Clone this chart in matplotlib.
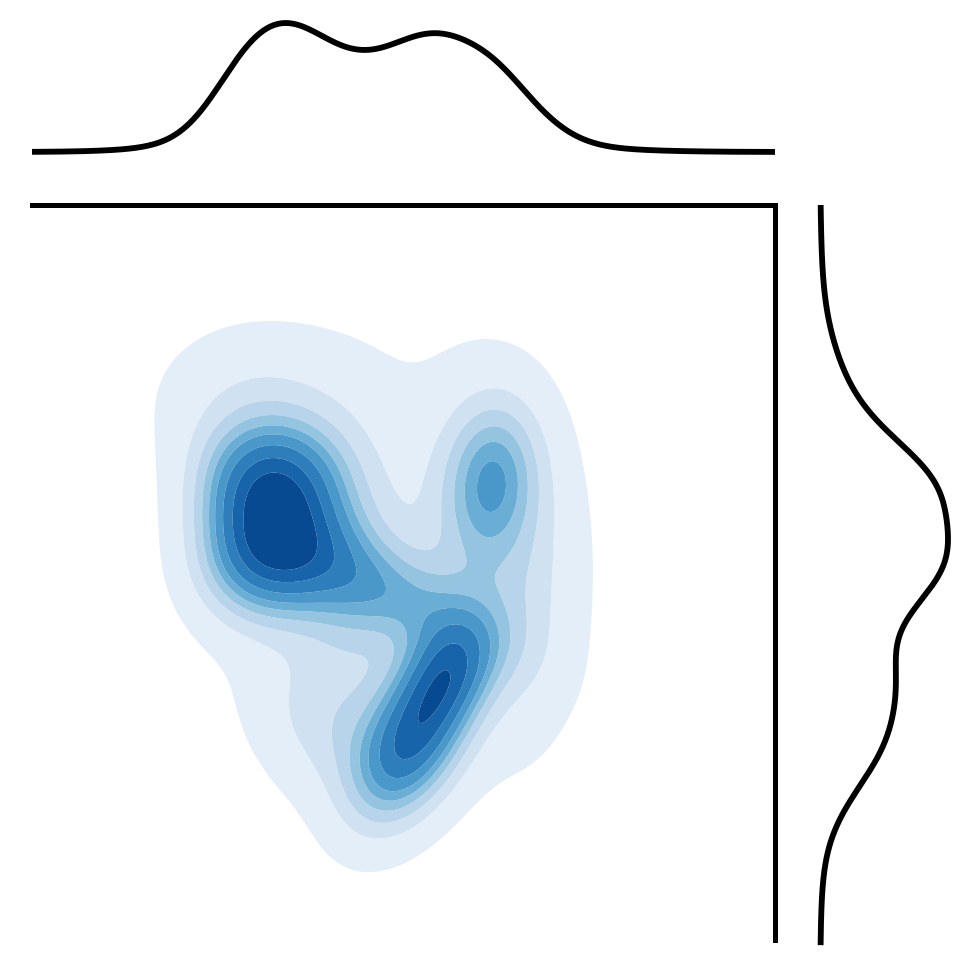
import numpy as np
import matplotlib
matplotlib.use("Agg")
import matplotlib.pyplot as plt

# Gaussian-mixture description of the density (data units, axes 0..10)
comp_x = [2.90, 3.56, 2.90, 3.56, 5.12, 5.60, 6.20, 4.90, 3.00, 4.90, 3.90, 6.60, 4.28, 5.90]
comp_y = [5.22, 5.22, 6.22, 6.22, 2.72, 3.65, 6.31, 5.00, 7.35, 4.70, 2.90, 5.00, 4.90, 5.60]
comp_sx = [0.50, 0.50, 0.50, 0.50, 0.53, 0.42, 0.42, 1.50, 0.90, 0.90, 0.60, 0.50, 0.45, 0.45]
comp_sy = [0.58, 0.58, 0.58, 0.58, 0.73, 0.50, 0.70, 1.90, 0.70, 0.60, 0.70, 1.40, 1.20, 1.30]
comp_rho = [0.0, 0.0, 0.0, 0.0, 0.45, 0.3, 0.1, 0.0, 0.0, -0.6, -0.3, 0.0, 0.0, 0.0]
comp_w = [0.068, 0.068, 0.068, 0.068, 0.13, 0.045, 0.055, 0.17, 0.04, 0.07, 0.03, 0.055, 0.04, 0.03]

iso_levels = np.linspace(0.05, 1.0, 10)
shade_vals = np.linspace(0.10, 0.90, 9)

xlim = (0.0, 10.0)
ylim = (0.0, 10.0)


def gauss2(X, Y, mx, my, sx, sy, r):
    dx = (X - mx) / sx
    dy = (Y - my) / sy
    z = (dx**2 - 2 * r * dx * dy + dy**2) / (1 - r**2)
    return np.exp(-z / 2) / (2 * np.pi * sx * sy * np.sqrt(1 - r**2))


def gauss1(v, m, s):
    return np.exp(-0.5 * ((v - m) / s) ** 2) / (s * np.sqrt(2 * np.pi))


gx = np.linspace(-2, 12, 560)
gy = np.linspace(-2, 12, 560)
X, Y = np.meshgrid(gx, gy)
Z = np.zeros_like(X)
for mx, my, sx, sy, r, w in zip(comp_x, comp_y, comp_sx, comp_sy, comp_rho, comp_w):
    Z += w * gauss2(X, Y, mx, my, sx, sy, r)

# iso-proportion levels (like seaborn)
vals = np.sort(Z.ravel())
cum = np.cumsum(vals)
cum /= cum[-1]
levels = [vals[np.searchsorted(cum, p)] for p in iso_levels[:-1]]
levels.append(Z.max() * 1.0001)

mx_line = np.linspace(xlim[0], xlim[1], 400)
my_line = np.linspace(ylim[0] - 0.07, ylim[1], 400)
top = np.zeros_like(mx_line)
right = np.zeros_like(my_line)
for mx, my, sx, sy, w in zip(comp_x, comp_y, comp_sx, comp_sy, comp_w):
    top += w * gauss1(mx_line, mx, sx)
    right += w * gauss1(my_line, my, sy)

W, H = 969, 957
fig = plt.figure(figsize=(W / 100, H / 100), dpi=100)

def px_axes(x0, y0, x1, y1):
    return fig.add_axes([x0 / W, 1 - y1 / H, (x1 - x0) / W, (y1 - y0) / H])

ax = px_axes(32, 205, 775, 940)
ax_top = px_axes(32, 10, 775, 152)
ax_right = px_axes(820, 205, 962, 940)

cmap = plt.get_cmap("Blues")
colors = [cmap(v) for v in shade_vals]
ax.contourf(X, Y, Z, levels=levels, colors=colors, antialiased=True)
ax.set_xlim(*xlim)
ax.set_ylim(*ylim)
ax.set_xticks([])
ax.set_yticks([])
for s in ["left", "bottom"]:
    ax.spines[s].set_visible(False)
for s in ["top", "right"]:
    ax.spines[s].set_linewidth(3.6)
    ax.spines[s].set_color("black")

ax_top.plot(mx_line, top, color="black", lw=4.2, clip_on=False, solid_capstyle="butt")
ax_top.set_xlim(*xlim)
ax_top.set_ylim(0, top.max() * 142 / 129)
ax_top.axis("off")

ax_right.plot(right, my_line, color="black", lw=4.2, clip_on=False, solid_capstyle="butt")
ax_right.set_ylim(*ylim)
ax_right.set_xlim(0, right.max() * 142 / 128)
ax_right.axis("off")

fig.savefig("out.png", dpi=100)
